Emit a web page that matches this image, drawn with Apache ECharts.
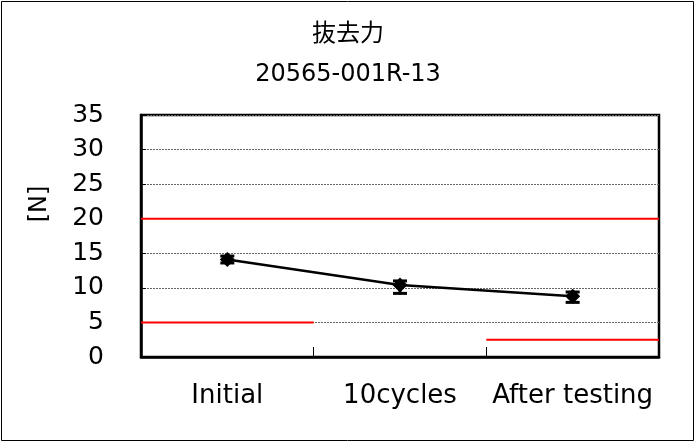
<!DOCTYPE html>
<html><head><meta charset="utf-8">
<script src="https://cdn.jsdelivr.net/npm/echarts@6/dist/echarts.min.js"></script>
<style>html,body{margin:0;padding:0;background:#fff}#c{width:696px;height:443px}</style>
</head><body><div id="c"></div>
<script>
const categories = ['Initial', '10cycles', 'After testing'];
const meanValues = [14.1, 10.4, 8.8];
const lowValues = [13.6, 9.2, 7.9];
const highValues = [14.6, 11.0, 9.4];
const upperLimit = [[0, 20], [3, 20]];
const lowerLimitA = [[0, 5], [1, 5]];
const lowerLimitB = [[2, 2.5], [3, 2.5]];
const yTicks = [0, 5, 10, 15, 20, 25, 30, 35];
const yName = '[N]';

const FONT = '"DejaVu Sans", "Noto Sans CJK JP", sans-serif';
const chart = echarts.init(document.getElementById('c'));
const errData = categories.map((c, i) => [i, lowValues[i], highValues[i]]);
const redLine = (d) => ({
  type: 'line', xAxisIndex: 1, data: d, symbol: 'none', silent: true,
  lineStyle: { color: '#ff0000', width: 2 }, z: 3, animation: false
});
chart.setOption({
  animation: false,
  title: {
    text: '抜去力', subtext: '20565-001R-13', left: 'center', top: 17, itemGap: 14,
    textStyle: { fontFamily: FONT, fontSize: 24, fontWeight: 'normal', color: '#000', lineHeight: 26 },
    subtextStyle: { fontFamily: FONT, fontSize: 24, color: '#000', lineHeight: 26 }
  },
  grid: { left: 141, right: 37, top: 115, bottom: 86, show: true, borderColor: '#000', borderWidth: 2.5, backgroundColor: 'transparent' },
  xAxis: [{
    type: 'category', data: categories, boundaryGap: true,
    axisLine: { show: true, lineStyle: { color: '#000', width: 2.5 } },
    axisTick: { show: true, inside: true, length: 10, interval: 0, lineStyle: { color: '#000' } },
    axisLabel: { fontFamily: FONT, fontSize: 26, color: '#000', margin: 26, interval: 0, hideOverlap: false }
  }, {
    type: 'value', min: 0, max: 3, show: false
  }],
  yAxis: {
    type: 'value', min: yTicks[0], max: yTicks[yTicks.length - 1], interval: 5,
    axisLine: { show: true, lineStyle: { color: '#000', width: 2.5 } },
    axisTick: { show: true, inside: true, length: 5, lineStyle: { color: '#000' } },
    axisLabel: { fontFamily: FONT, fontSize: 25, color: '#000', margin: 37 },
    splitLine: { show: true, lineStyle: { color: '#666', type: [2, 1], width: 1 } }
  },
  graphic: [{
    type: 'rect', shape: { x: 1.5, y: 1.5, width: 692, height: 439 },
    style: { fill: 'none', stroke: '#000', lineWidth: 1 }, silent: true
  }, {
    type: 'text', x: 40, y: 204, rotation: Math.PI / 2, silent: true,
    style: { text: yName, font: '24px ' + FONT, fill: '#000', align: 'center', verticalAlign: 'middle' }
  }],
  series: [
    redLine(upperLimit), redLine(lowerLimitA), redLine(lowerLimitB),
    {
      type: 'custom', data: errData, z: 4,
      renderItem: function (params, api) {
        const x = api.value(0);
        const lo = api.coord([x, api.value(1)]);
        const hi = api.coord([x, api.value(2)]);
        const w = 7;
        const st = { stroke: '#000', lineWidth: 3 };
        return { type: 'group', children: [
          { type: 'line', shape: { x1: lo[0], y1: lo[1], x2: hi[0], y2: hi[1] }, style: st },
          { type: 'line', shape: { x1: lo[0] - w, y1: lo[1], x2: lo[0] + w, y2: lo[1] }, style: st },
          { type: 'line', shape: { x1: hi[0] - w, y1: hi[1], x2: hi[0] + w, y2: hi[1] }, style: st }
        ] };
      }
    },
    {
      type: 'line', data: meanValues, symbol: 'diamond', symbolSize: 15, z: 5,
      itemStyle: { color: '#000' }, lineStyle: { color: '#000', width: 2.5 }
    }
  ]
});
</script></body></html>
